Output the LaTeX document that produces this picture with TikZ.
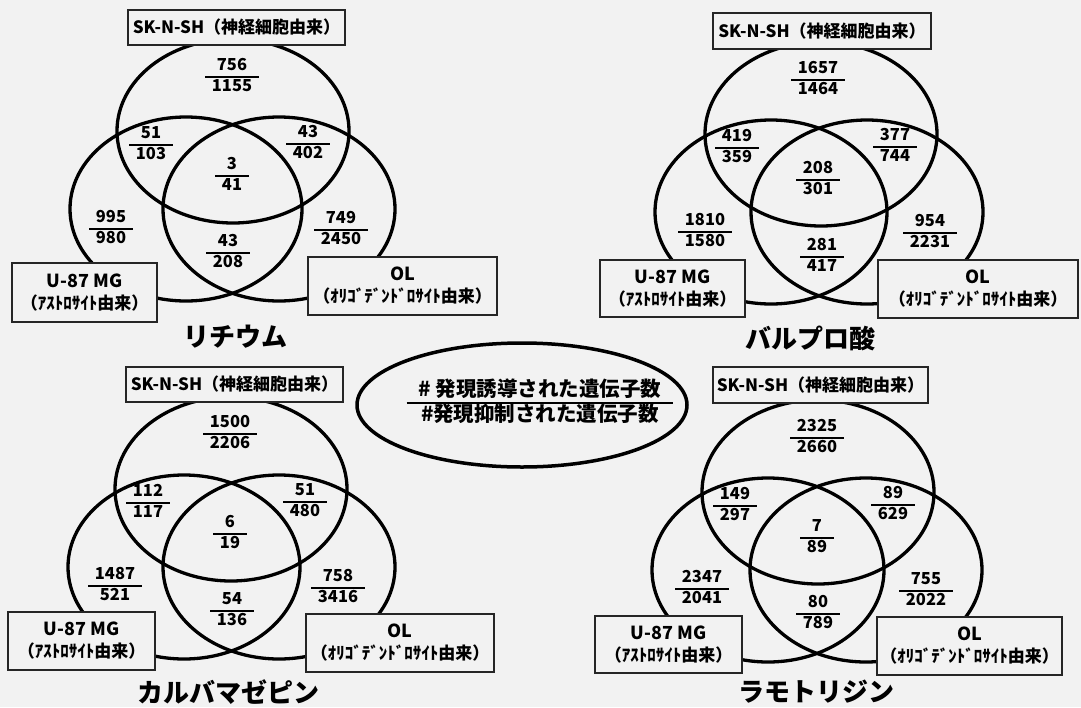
\documentclass[tikz,border=0pt]{standalone}
\usepackage{fontspec}
\newfontfamily\jp{Noto Sans CJK JP}
\definecolor{bgc}{gray}{0.95}
\newcommand\fr[3][1.8pt]{{\setlength\arrayrulewidth{#1}\begin{tabular}{@{\hspace{6.5pt}}c@{\hspace{6.5pt}}}#2\\\hline #3\end{tabular}}}
\newcommand\sub[1]{{\fontsize{17}{21}\selectfont #1}}
\tikzset{
  vring/.style={line width=3.3pt},
  lbl/.style={draw=black!85, line width=1.2pt, fill=bgc, align=center, inner sep=0pt,
    font=\jp\bfseries\fontsize{18}{22}\selectfont},
  sklbl/.style={lbl, font=\jp\bfseries\fontsize{17}{20}\selectfont},
  num/.style={font=\jp\bfseries\fontsize{16.5}{19.5}\selectfont, inner sep=0pt},
  ttl/.style={font=\jp\bfseries\fontsize{26}{30}\selectfont, inner sep=0pt},
}
\begin{document}
\begin{tikzpicture}[x=1pt,y=-1pt]
\fill[bgc] (0,0) rectangle (1081,707);
\useasboundingbox (0,0) rectangle (1081,707);

% ---------- Lithium ----------
\foreach \c in {(233,131),(186,209),(279,209)} \draw[vring] \c ellipse [x radius=116, y radius=92];
\node[num] (l1) at (232,77) {\fr{756}{1155}};
\node[num] (l2) at (151,145) {\fr{51}{103}};
\node[num] (l3) at (308,144) {\fr{43}{402}};
\node[num] (l4) at (232,176) {\fr{3}{41}};
\node[num] (l5) at (111,229) {\fr{995}{980}};
\node[num] (l6) at (341,230) {\fr{749}{2450}};
\node[num] (l7) at (228,253) {\fr{43}{208}};
\node[sklbl, minimum width=217pt, minimum height=35pt] (lsk) at (236.5,27.5) {SK-N-SH（神経細胞由来）};
\node[lbl, minimum width=145pt, minimum height=59pt] (lu) at (84.5,292.5) {U-87 MG\\\sub{（ｱｽﾄﾛｻｲﾄ由来）}};
\node[lbl, minimum width=189pt, minimum height=58pt] (lo) at (402.5,286) {OL\\\sub{（ｵﾘｺﾞﾃﾞﾝﾄﾞﾛｻｲﾄ由来）}};
\node[ttl] (lt) at (235,337) {リチウム};

% ---------- Valproic acid ----------
\foreach \c in {(821,134),(771,212),(867,212)} \draw[vring] \c ellipse [x radius=116, y radius=92];
\node[num] (v1) at (818,80) {\fr{1657}{1464}};
\node[num] (v2) at (737,148) {\fr{419}{359}};
\node[num] (v3) at (895,147) {\fr{377}{744}};
\node[num] (v4) at (818,180) {\fr{208}{301}};
\node[num] (v5) at (705,232) {\fr{1810}{1580}};
\node[num] (v6) at (930,233) {\fr{954}{2231}};
\node[num] (v7) at (822,257) {\fr{281}{417}};
\node[sklbl, minimum width=218pt, minimum height=36pt] (vsk) at (822,31) {SK-N-SH（神経細胞由来）};
\node[lbl, minimum width=145pt, minimum height=57pt] (vu) at (672.5,288.5) {U-87 MG\\\sub{（ｱｽﾄﾛｻｲﾄ由来）}};
\node[lbl, minimum width=200pt, minimum height=58pt] (vo) at (978,289) {OL\\\sub{（ｵﾘｺﾞﾃﾞﾝﾄﾞﾛｻｲﾄ由来）}};
\node[ttl] (vt) at (810,338) {バルプロ酸};

% ---------- Carbamazepine ----------
\foreach \c in {(231,489),(184,567),(279,567)} \draw[vring] \c ellipse [x radius=116, y radius=92];
\node[num] (c1) at (230,434) {\fr{1500}{2206}};
\node[num] (c2) at (148,503) {\fr{112}{117}};
\node[num] (c3) at (305,502) {\fr{51}{480}};
\node[num] (c4) at (230,534) {\fr{6}{19}};
\node[num] (c5) at (115,586) {\fr{1487}{521}};
\node[num] (c6) at (338,588) {\fr{758}{3416}};
\node[num] (c7) at (232,611) {\fr{54}{136}};
\node[sklbl, minimum width=217pt, minimum height=35pt] (csk) at (234.5,384.5) {SK-N-SH（神経細胞由来）};
\node[lbl, minimum width=147pt, minimum height=58pt] (cu) at (81.5,641) {U-87 MG\\\sub{（ｱｽﾄﾛｻｲﾄ由来）}};
\node[lbl, minimum width=188pt, minimum height=58pt] (co) at (400,643) {OL\\\sub{（ｵﾘｺﾞﾃﾞﾝﾄﾞﾛｻｲﾄ由来）}};
\node[ttl] (ct) at (228,692) {カルバマゼピン};

% ---------- Lamotrigine ----------
\foreach \c in {(818,492),(768,570),(866,570)} \draw[vring] \c ellipse [x radius=116, y radius=92];
\node[num] (m1) at (817,438) {\fr{2325}{2660}};
\node[num] (m2) at (735,506) {\fr{149}{297}};
\node[num] (m3) at (893,505) {\fr{89}{629}};
\node[num] (m4) at (817,538) {\fr{7}{89}};
\node[num] (m5) at (702,589) {\fr{2347}{2041}};
\node[num] (m6) at (926,591) {\fr{755}{2022}};
\node[num] (m7) at (818,614) {\fr{80}{789}};
\node[sklbl, minimum width=215pt, minimum height=36pt] (msk) at (820.5,385) {SK-N-SH（神経細胞由来）};
\node[lbl, minimum width=147pt, minimum height=57pt] (mu) at (668.5,644.5) {U-87 MG\\\sub{（ｱｽﾄﾛｻｲﾄ由来）}};
\node[lbl, minimum width=185pt, minimum height=58pt] (mo) at (969.5,646) {OL\\\sub{（ｵﾘｺﾞﾃﾞﾝﾄﾞﾛｻｲﾄ由来）}};
\node[ttl] (mt) at (816,692) {ラモトリジン};

% ---------- legend ----------
\draw[line width=3.5pt] (522,405) ellipse [x radius=165, y radius=62];
\node[font=\jp\bfseries\fontsize{20.5}{24}\selectfont, inner sep=0pt] (key) at (540,404)
  {{\setlength\arrayrulewidth{2.8pt}\begin{tabular}{@{\hspace{12pt}}c@{\hspace{12pt}}}\#\ 発現誘導された遺伝子数\\[-2pt]\hline \#発現抑制された遺伝子数\end{tabular}}};
\end{tikzpicture}
\end{document}
